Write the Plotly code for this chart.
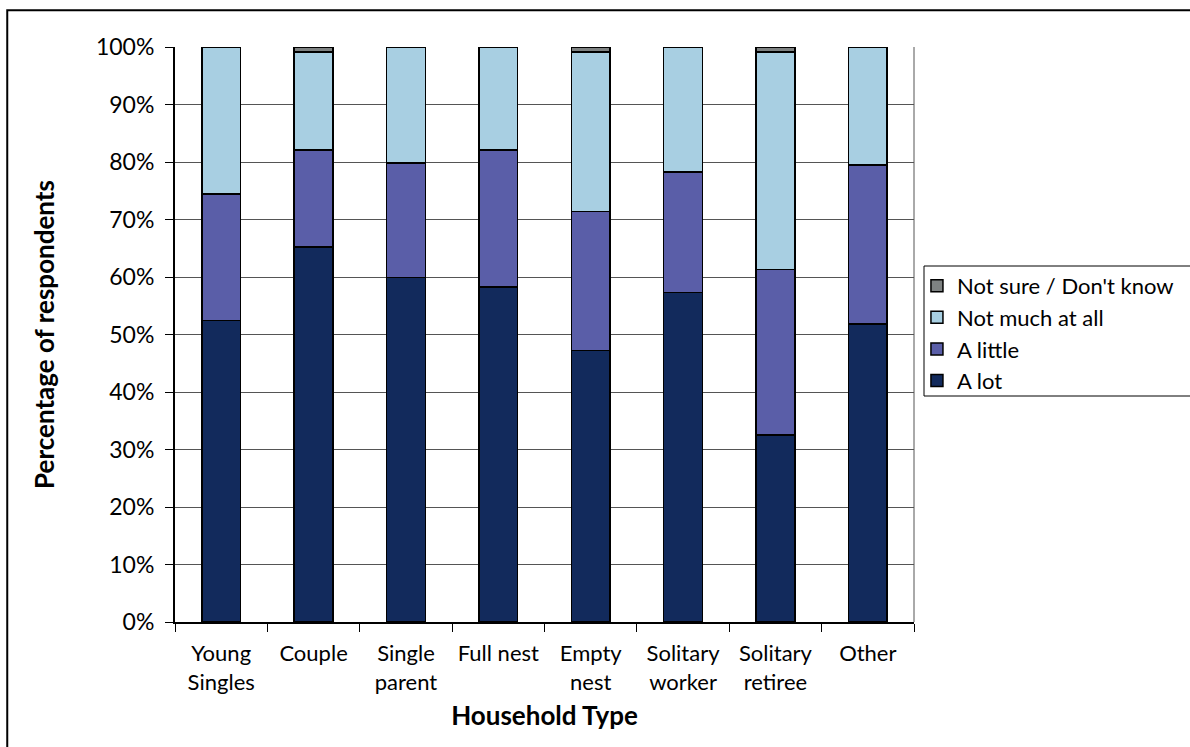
import plotly.graph_objects as go

# Household categories and response shares (% of respondents)
categories = ["Young<br>Singles", "Couple", "Single<br>parent", "Full nest",
              "Empty<br>nest", "Solitary<br>worker", "Solitary<br>retiree", "Other"]
a_lot = [52.4, 65.2, 59.9, 58.3, 47.2, 57.3, 32.5, 51.8]
a_little = [22.0, 16.9, 19.9, 23.8, 24.2, 21.0, 28.8, 27.7]
not_much = [25.6, 17.0, 20.2, 17.9, 27.7, 21.7, 37.8, 20.5]
not_sure = [0.0, 0.9, 0.0, 0.0, 0.9, 0.0, 0.9, 0.0]

series = [
    ("A lot", a_lot, "#122A5C"),
    ("A little", a_little, "#5A5EA8"),
    ("Not much at all", not_much, "#A8CFE2"),
    ("Not sure / Don't know", not_sure, "#7E8282"),
]

FONT = "Lato, Liberation Sans, Arial, sans-serif"

fig = go.Figure()
for name, vals, color in series:
    fig.add_trace(go.Bar(
        x=categories, y=vals, name=name, legendgroup=name,
        marker=dict(color=color, line=dict(color="black", width=1.5)),
    ))

fig.update_layout(
    barmode="stack",
    bargap=0.58,
    width=1190, height=747,
    margin=dict(l=175, r=276, t=47, b=125, autoexpand=False),
    paper_bgcolor="white",
    plot_bgcolor="white",
    font=dict(family=FONT, size=22, color="black"),
    legend=dict(
        traceorder="reversed",
        x=1.004, y=0.621, xanchor="left", yanchor="top",
        borderwidth=0, bgcolor="rgba(0,0,0,0)",
        font=dict(family=FONT, size=22),
        itemwidth=30,
        tracegroupgap=1,
    ),
    xaxis=dict(
        type="category",
        tickson="boundaries",
        ticks="outside", ticklen=8, tickcolor="black",
        showline=True, linecolor="black", linewidth=2,
        showgrid=False,
        tickfont=dict(family=FONT, size=22),
        ticklabelstandoff=11,
        title=dict(text="<b>Household Type</b>", font=dict(family=FONT, size=26), standoff=13),
    ),
    yaxis=dict(
        range=[0, 100],
        dtick=10,
        ticksuffix="%",
        ticks="outside", ticklen=8, tickcolor="black",
        showline=True, linecolor="black", linewidth=2,
        showgrid=True, gridcolor="#555555", gridwidth=1,
        tickfont=dict(family=FONT, size=23),
        ticklabelstandoff=6,
        title=dict(text="<b>Percentage of respondents</b>", font=dict(family=FONT, size=26), standoff=34),
    ),
    shapes=[
        # right edge of the plot area
        dict(type="line", xref="paper", yref="paper", x0=1, x1=1, y0=0, y1=1,
             line=dict(color="#555555", width=1)),
        # legend frame
        dict(type="rect", xref="paper", yref="paper",
             x0=(924 - 175) / 739, x1=(1200 - 175) / 739,
             y0=(622 - 396) / 575, y1=(622 - 266) / 575,
             line=dict(color="black", width=1)),
        # outer chart frame
        dict(type="rect", xref="paper", yref="paper",
             x0=-0.227, x1=1.7, y0=-0.3, y1=1.064,
             line=dict(color="black", width=2)),
    ],
)

fig.write_html("out.html")
